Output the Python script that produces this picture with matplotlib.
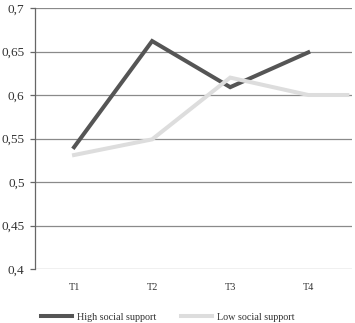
import matplotlib
matplotlib.use('Agg')
import matplotlib.pyplot as plt
from matplotlib.ticker import FuncFormatter
from matplotlib.lines import Line2D

categories = ['T1', 'T2', 'T3', 'T4']
highSupport = [0.54, 0.662, 0.609, 0.649]
# the low series runs on to the right edge of the plot
lowX = [0, 1, 2, 3, 3.5]
lowSupport = [0.531, 0.549, 0.62, 0.6, 0.6]
yTicks = [0.4, 0.45, 0.5, 0.55, 0.6, 0.65, 0.7]

plt.rcParams['font.family'] = ['Liberation Serif', 'DejaVu Serif']

fig = plt.figure(figsize=(3.55, 3.23), dpi=100)
ax = fig.add_axes([35 / 355, 54 / 323, 317 / 355, 261 / 323])

darkColor = '#555555'
lightColor = '#dddddd'

ax.plot(range(len(categories)), highSupport, color=darkColor, linewidth=2.9, solid_joinstyle='miter')
ax.plot(lowX, lowSupport, color=lightColor, linewidth=2.9, solid_joinstyle='miter')

ax.set_ylim(0.4, 0.7)
ax.set_xlim(-0.5, 3.56)
ax.set_yticks(yTicks)
ax.yaxis.set_major_formatter(FuncFormatter(lambda v, p: ('%g' % v).replace('.', ',')))
ax.set_xticks(range(len(categories)))
ax.set_xticklabels(categories)
ax.grid(axis='y', color='#8a8a8a', linewidth=0.9)
ax.set_axisbelow(True)

for side in ['top', 'right', 'bottom']:
    ax.spines[side].set_visible(False)
ax.spines['left'].set_color('#666666')
ax.spines['left'].set_linewidth(0.9)

ax.tick_params(axis='y', length=3.5, width=0.9, color='#666666', labelsize=9.5, labelcolor='#333333', pad=4)
ax.tick_params(axis='x', length=0, labelsize=7.3, labelcolor='#333333', pad=10)

handles = [Line2D([], [], color=darkColor, linewidth=2.9),
           Line2D([], [], color=lightColor, linewidth=2.9)]
fig.legend(handles, ['High social support', 'Low social support'], loc='center',
           bbox_to_anchor=(0.472, 6 / 323), ncol=2, frameon=False, fontsize=7.3,
           handlelength=3.1, handletextpad=0.45, columnspacing=2.4, labelcolor='#333333',
           borderpad=0)

fig.savefig('out.png', dpi=100)
